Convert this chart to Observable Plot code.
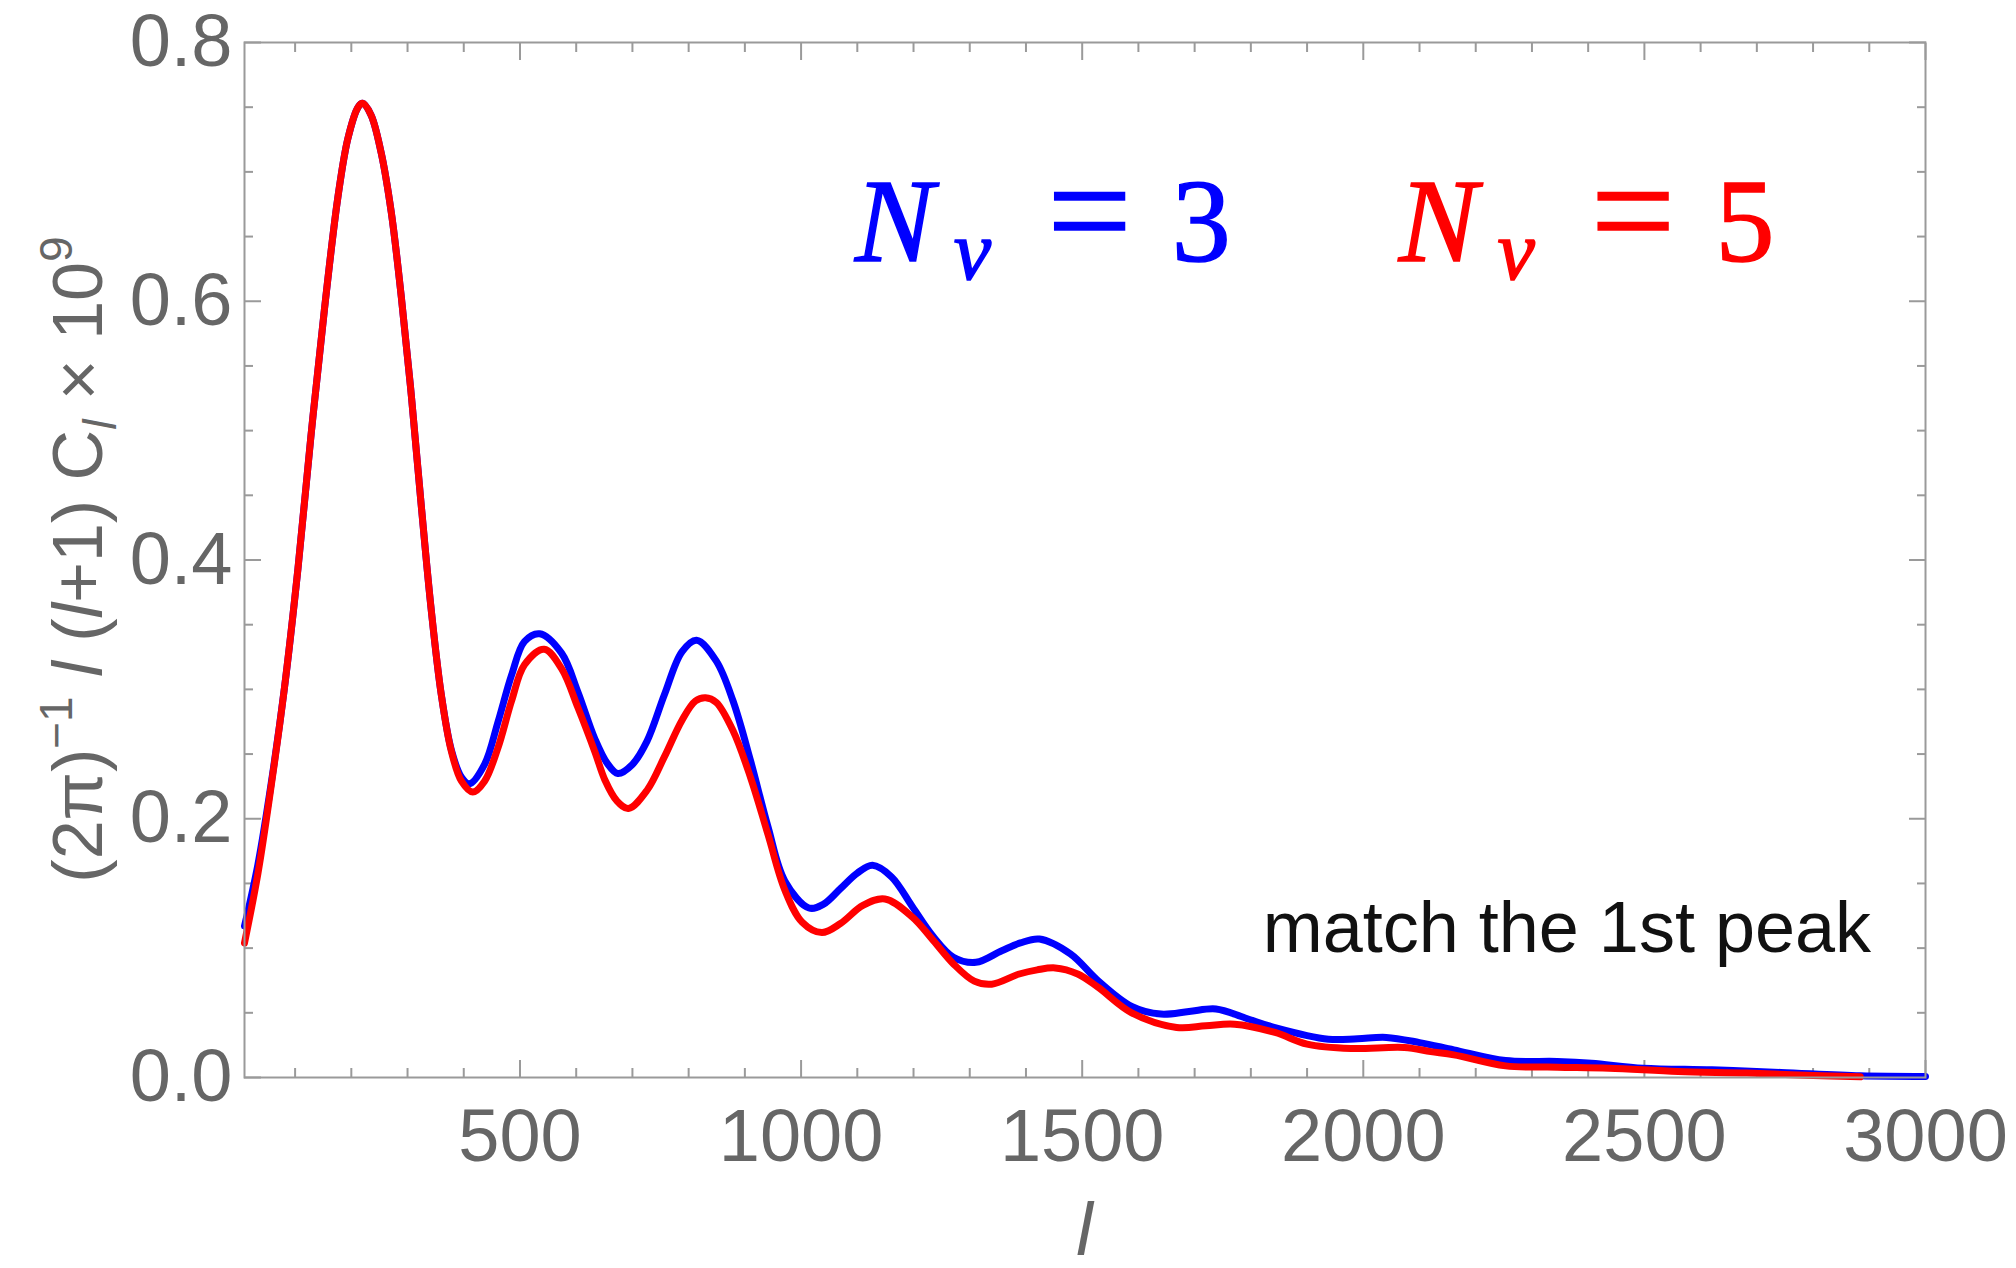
<!DOCTYPE html>
<html>
<head>
<meta charset="utf-8">
<script src="https://cdn.jsdelivr.net/npm/d3@7"></script>
<script src="https://cdn.jsdelivr.net/npm/@observablehq/plot@0.6"></script>
<style>
  html, body { margin: 0; padding: 0; background: #fff; }
  #chart svg { display: block; }
</style>
</head>
<body>
<div id="chart"></div>
<script>
// ---- data ----
const ell3 = [10,34,57,81,105,128,152,176,194,212,220,235,253,271,289,307,324,342,360,378,396,410,437,461,485,508,535,574,603,633,655,674,700,726,757,788,814,849,879,910,941,971,1014,1040,1070,1100,1127,1161,1198,1235,1271,1311,1357,1390,1424,1479,1528,1588,1640,1690,1738,1790,1843,1938,1990,2041,2100,2161,2253,2345,2406,2498,2620,2743,2884,3000];
const cl3 = [0.117,0.165,0.226,0.301,0.393,0.495,0.593,0.680,0.726,0.750,0.753,0.744,0.715,0.669,0.603,0.526,0.444,0.362,0.296,0.253,0.232,0.227,0.242,0.275,0.311,0.337,0.343,0.328,0.298,0.262,0.243,0.235,0.242,0.260,0.296,0.329,0.338,0.322,0.291,0.245,0.194,0.152,0.131,0.134,0.146,0.158,0.164,0.155,0.132,0.109,0.093,0.089,0.098,0.104,0.107,0.0955,0.0749,0.055,0.049,0.051,0.053,0.046,0.0386,0.0296,0.030,0.031,0.027,0.0214,0.0131,0.0124,0.011,0.0072,0.0059,0.0039,0.0013,0.0008];

const ell5 = [10,34,57,81,105,128,152,176,194,212,220,235,253,271,289,307,324,342,360,378,396,416,437,461,485,508,543,574,603,633,651,672,693,726,757,788,812,830,849,879,910,941,971,1002,1037,1070,1110,1149,1198,1235,1271,1308,1339,1388,1420,1452,1492,1528,1588,1668,1720,1771,1843,1900,1978,2073,2120,2161,2253,2345,2437,2560,2682,2800,2884];
const cl5 = [0.104,0.158,0.224,0.301,0.393,0.495,0.593,0.680,0.726,0.750,0.753,0.744,0.715,0.669,0.603,0.526,0.444,0.362,0.296,0.252,0.229,0.2206,0.229,0.255,0.291,0.319,0.331,0.316,0.286,0.252,0.230,0.214,0.208,0.222,0.248,0.276,0.291,0.2935,0.290,0.268,0.232,0.188,0.145,0.120,0.112,0.119,0.133,0.138,0.124,0.106,0.0878,0.0745,0.0721,0.0800,0.0832,0.0847,0.0800,0.0698,0.050,0.0387,0.040,0.0412,0.0348,0.0258,0.0224,0.0232,0.020,0.0175,0.009,0.008,0.0072,0.0046,0.0034,0.0015,0.0005];

const xTicks = [500, 1000, 1500, 2000, 2500, 3000];
const xMinorTicks = [100,200,300,400,600,700,800,900,1100,1200,1300,1400,1600,1700,1800,1900,2100,2200,2300,2400,2600,2700,2800,2900];
const yTicks = [0, 0.2, 0.4, 0.6, 0.8];
const yMinorTicks = [0.05,0.1,0.15,0.25,0.3,0.35,0.45,0.5,0.55,0.65,0.7,0.75];

const seriesNames = ["3", "5"];
const seriesColors = ["#0000ff", "#ff0000"];
const noteText = "match the 1st peak";

// ---- style ----
const frameGray = "#9a9a9a";
const labelGray = "#666666";
const sans = "'Liberation Sans', Arial, Helvetica, sans-serif";
const serif = "'Liberation Serif', 'Times New Roman', serif";

function tickAxes(anchorX, anchorY) {
  return [
    Plot.axisX(xMinorTicks, {anchor: anchorX, tickSize: -9, tickFormat: () => "", stroke: frameGray, strokeWidth: 2, label: null}),
    Plot.axisX(xTicks, {anchor: anchorX, tickSize: -17, tickFormat: () => "", stroke: frameGray, strokeWidth: 2, label: null}),
    Plot.axisY(yMinorTicks, {anchor: anchorY, tickSize: -9, tickFormat: () => "", stroke: frameGray, strokeWidth: 2, label: null}),
    Plot.axisY(yTicks, {anchor: anchorY, tickSize: -17, tickFormat: () => "", stroke: frameGray, strokeWidth: 2, label: null})
  ];
}

const plot = Plot.plot({
  width: 2016,
  height: 1268,
  marginLeft: 244,
  marginRight: 91,
  marginTop: 42,
  marginBottom: 191,
  x: {domain: [10, 3000]},
  y: {domain: [0, 0.8]},
  style: {fontFamily: sans, fontSize: "74px", background: "#fff", overflow: "visible"},
  marks: [
    ...tickAxes("bottom", "left"),
    ...tickAxes("top", "right"),
    Plot.axisX(xTicks, {anchor: "bottom", tickSize: 0, tickPadding: 31, fill: labelGray, tickFormat: d3.format("d"), label: null}),
    Plot.axisY(yTicks, {anchor: "left", tickSize: 0, tickPadding: 12, fill: labelGray, tickFormat: d3.format(".1f"), label: null}),
    Plot.line(ell3, {x: ell3, y: cl3, stroke: seriesColors[0], strokeWidth: 7, curve: "catmull-rom"}),
    Plot.line(ell5, {x: ell5, y: cl5, stroke: seriesColors[1], strokeWidth: 7, curve: "catmull-rom"}),
    Plot.frame({stroke: frameGray, strokeWidth: 2})
  ]
});

document.getElementById("chart").appendChild(plot);

// ---- annotations positioned through the plot's scales ----
const xs = plot.scale("x");
const ys = plot.scale("y");
const svg = d3.select(plot);

// y-axis label: (2π)^-1 l (l+1) C_l × 10^9
const yl = svg.append("text")
  .attr("transform", `translate(102,${(ys.apply(0) + ys.apply(0.8)) / 2}) rotate(-90)`)
  .attr("text-anchor", "middle")
  .attr("fill", labelGray)
  .attr("font-family", sans)
  .attr("font-size", 70);
yl.append("tspan").text("(2π)");
yl.append("tspan").attr("font-size", 46).attr("dy", -30).text("−1");
yl.append("tspan").attr("dy", 30).text(" ");
yl.append("tspan").attr("font-style", "italic").text("l");
yl.append("tspan").text(" (");
yl.append("tspan").attr("font-style", "italic").text("l");
yl.append("tspan").text("+1) C");
yl.append("tspan").attr("font-style", "italic").attr("font-size", 46).attr("dy", 14).text("l");
yl.append("tspan").attr("dy", -14).text(" × 10");
yl.append("tspan").attr("font-size", 46).attr("dy", -30).text("9");

// x-axis label: l
svg.append("text")
  .attr("x", (xs.apply(10) + xs.apply(3000)) / 2)
  .attr("y", 1255)
  .attr("text-anchor", "middle")
  .attr("fill", labelGray)
  .attr("font-family", sans)
  .attr("font-style", "italic")
  .attr("font-size", 74)
  .text("l");

// legend: N_ν = 3 , N_ν = 5
const legendL = [1097, 2064];
seriesNames.forEach((n, i) => {
  const t = svg.append("text")
    .attr("x", xs.apply(legendL[i]))
    .attr("y", ys.apply(0.631))
    .attr("text-anchor", "start")
    .attr("fill", seriesColors[i])
    .attr("stroke", seriesColors[i])
    .attr("stroke-width", 1.5)
    .attr("font-family", serif)
    .attr("font-size", 118);
  t.append("tspan").attr("font-style", "italic").text("N");
  t.append("tspan").attr("font-style", "italic").attr("font-size", 84).attr("dx", 20).attr("dy", 18).text("ν");
  t.append("tspan").attr("dx", 56).attr("dy", -18).attr("font-size", 150).text("=");
  t.append("tspan").attr("dx", 40).text(n);
});

// note
svg.append("text")
  .attr("x", xs.apply(2904))
  .attr("y", ys.apply(0.0966))
  .attr("text-anchor", "end")
  .attr("fill", "#111")
  .attr("font-family", sans)
  .attr("font-size", 72)
  .text(noteText);
</script>
</body>
</html>
